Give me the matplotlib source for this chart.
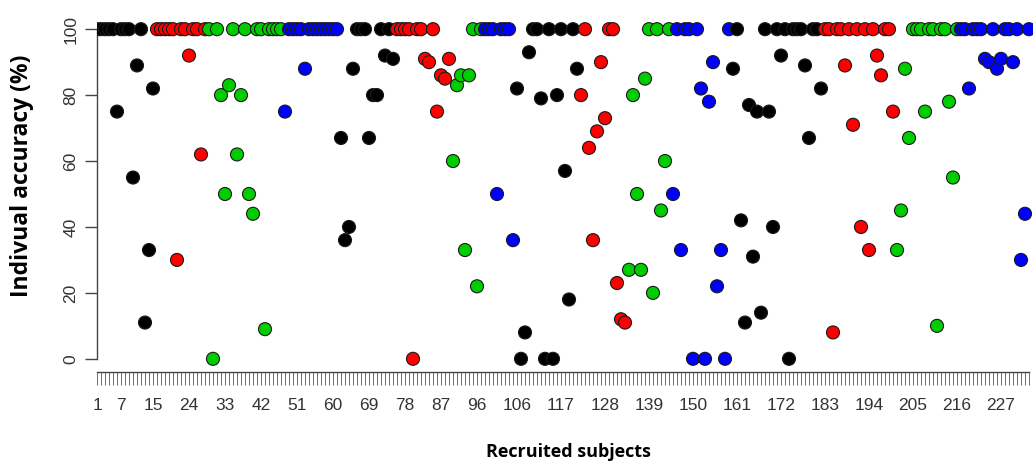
import numpy as np
import matplotlib
matplotlib.use("Agg")
import matplotlib.pyplot as plt

# accuracy (%) per recruited subject, listed block by block
accuracy = [
    100, 100, 100, 100, 100, 75, 100, 100, 100, 55, 89, 100, 11, 33, 82,
    100, 100, 100, 100, 100, 30, 100, 100, 92, 100, 100, 62, 100,
    100, 0, 100, 80, 50, 83, 100, 62, 80, 100, 50, 44, 100, 100, 9, 100, 100, 100, 100,
    75, 100, 100, 100, 100, 88, 100, 100, 100, 100, 100, 100, 100, 100,
    67, 36, 40, 88, 100, 100, 100, 67, 80, 80, 100, 92, 100, 91,
    100, 100, 100, 100, 0, 100, 100, 91, 90, 100, 75, 86, 85, 91,
    60, 83, 86, 33, 86, 100, 22, 100,
    100, 100, 100, 50, 100, 100, 100, 36,
    82, 0, 8, 93, 100, 100, 79, 0, 100, 0, 80, 100, 57, 18, 100, 88,
    80, 100, 64, 36, 69, 90, 73, 100, 100, 23, 12, 11,
    27, 80, 50, 27, 85, 100, 20, 100, 45, 60, 100,
    50, 100, 33, 100, 100, 0, 100, 82, 0, 78, 90, 22, 33, 0, 100,
    88, 100, 42, 11, 77, 31, 75, 14, 100, 75, 40, 100, 92, 100, 0, 100, 100, 100, 89, 67, 100, 100, 82,
    100, 100, 8, 100, 100, 89, 100, 71, 100, 40, 100, 33, 100, 92, 86, 100, 100, 75,
    33, 45, 88, 67, 100, 100, 100, 75, 100, 100, 10, 100, 100, 78, 55, 100,
    100, 100, 82, 100, 100, 100, 91, 90, 100, 88, 91, 100, 100, 90, 100, 30, 44, 100,
]

# colour of each block and how many subjects it holds
block_colors = ["black", "red", "green", "blue"] * 4
block_sizes = [15, 13, 19, 14, 14, 14, 8, 8, 16, 12, 11, 15, 23, 18, 16, 18]

# labels that are printed under the x axis
shown_labels = [1, 7, 15, 24, 33, 42, 51, 60, 69, 78, 87, 96, 106, 117,
                128, 139, 150, 161, 172, 183, 194, 205, 216, 227]

fill = {"black": "#000000", "red": "#ff0000", "green": "#00cd00", "blue": "#0000ff"}

subjects = np.arange(1, len(accuracy) + 1)
colors = []
for c, n in zip(block_colors, block_sizes):
    colors += [fill[c]] * n

fig = plt.figure(figsize=(10.35, 4.65), dpi=100)
W, H = 1035, 465
ax = fig.add_axes([97 / W, (H - 372) / H, (1033 - 97) / W, (372 - 16) / H])

ax.scatter(subjects, accuracy, s=88, c=colors, edgecolors="#1a1a1a",
           linewidths=0.8, zorder=3)

ax.set_xlim(1, 235)
ax.set_ylim(-4, 104)

for side in ["top", "right"]:
    ax.spines[side].set_visible(False)
ax.spines["left"].set_bounds(0, 100)
ax.spines["bottom"].set_bounds(1, len(accuracy))
for side in ["left", "bottom"]:
    ax.spines[side].set_color("#444444")
    ax.spines[side].set_linewidth(1.0)

ax.set_yticks([0, 20, 40, 60, 80, 100])
ax.set_yticklabels(["0", "20", "40", "60", "80", "100"], rotation=90,
                   va="center", fontsize=12.5, family="Liberation Sans", color="#333333")
ax.tick_params(axis="y", length=8.5, width=1.0, color="#444444", pad=5)

ax.set_xticks(subjects)
ax.set_xticklabels([str(s) if s in shown_labels else "" for s in subjects],
                   fontsize=12.5, family="Liberation Sans", color="#333333")
ax.tick_params(axis="x", length=9, width=0.6, color="#555555", pad=10)

fig.text(22 / W, 1 - 176 / H, "Indivual accuracy (%)", rotation=90,
         ha="center", va="center", fontsize=16.5, fontweight="bold", family="Open Sans")
fig.text(568 / W, 1 - 452 / H, "Recruited subjects",
         ha="center", va="center", fontsize=13, fontweight="bold", family="Open Sans")

fig.savefig("out.png", dpi=100)
